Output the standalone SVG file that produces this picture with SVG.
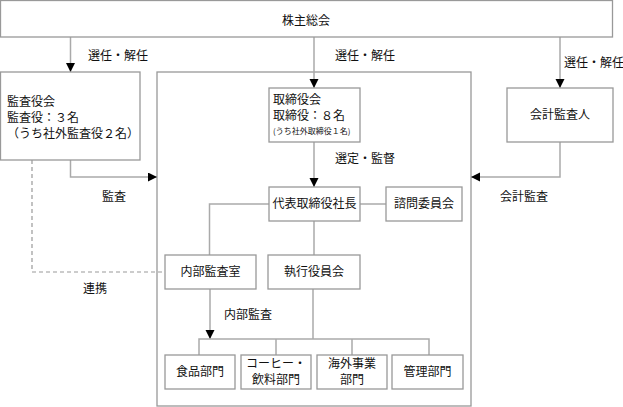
<svg xmlns="http://www.w3.org/2000/svg" width="623" height="407" viewBox="0 0 623 407">
<defs>
<marker id="ah" markerUnits="userSpaceOnUse" markerWidth="10" markerHeight="10" refX="9" refY="4.5" orient="auto">
<path d="M0,0 L9,4.5 L0,9 Z" fill="#000"/>
</marker>
<style>
.box{fill:#fff;stroke:#999;stroke-width:1.3}
.ln{fill:none;stroke:#aaa;stroke-width:1.5}
.dash{fill:none;stroke:#999;stroke-width:1.2;stroke-dasharray:4,3}
text{font-family:"Noto Sans CJK JP","Noto Sans",sans-serif;font-size:12px;fill:#111}
.c{text-anchor:middle}
.s{font-size:8px}
</style>
</defs>
<rect x="157" y="72" width="314" height="334" class="box"/>
<g id="connectors">
<path class="ln" d="M70.5,37 V72" marker-end="url(#ah)"/>
<path class="ln" d="M314,37 V88" marker-end="url(#ah)"/>
<path class="ln" d="M560,37 V88" marker-end="url(#ah)"/>
<path class="ln" d="M70.5,160 V177 H157" marker-end="url(#ah)"/>
<path class="ln" d="M560,142 V177 H471" marker-end="url(#ah)"/>
<path class="ln" d="M314,142 V187" marker-end="url(#ah)"/>
<path class="ln" d="M360,204 H386"/>
<path class="ln" d="M269,204 H209.5 V255"/>
<path class="ln" d="M314,221 V255"/>
<path class="dash" d="M32,160 V272 H165"/>
<path class="ln" d="M210,289 V339" marker-end="url(#ah)"/>
<path class="ln" d="M313,289 V339"/>
<path class="ln" d="M199,355 V339 H429 V355"/>
<path class="ln" d="M276,339 V355"/>
<path class="ln" d="M352,339 V355"/>
<text x="88" y="60">選任・解任</text>
<text x="335" y="60">選任・解任</text>
<text x="564" y="67">選任・解任</text>
<text x="102" y="201">監査</text>
<text x="500" y="201">会計監査</text>
<text x="335" y="163">選定・監督</text>
<text x="83" y="293">連携</text>
<text x="224" y="319">内部監査</text>
</g>
<g id="shareholders">
<rect x="0.5" y="0.5" width="612" height="36.5" class="box"/>
<text x="306" y="25" class="c">株主総会</text>
</g>
<g id="audit-board">
<rect x="0.5" y="72" width="139.5" height="88" class="box"/>
<text x="7" y="106">監査役会</text>
<text x="7" y="122">監査役：３名</text>
<text x="7" y="138">（うち社外監査役２名）</text>
</g>
<g id="board">
<rect x="269" y="88" width="91" height="54" class="box"/>
<text x="273" y="104">取締役会</text>
<text x="273" y="120">取締役：８名</text>
<text x="273" y="134" class="s">(うち社外取締役１名)</text>
</g>
<g id="auditor">
<rect x="507" y="88" width="106" height="54" class="box"/>
<text x="560" y="119" class="c">会計監査人</text>
</g>
<g id="president">
<rect x="269" y="187" width="91" height="34" class="box"/>
<text x="314.5" y="208" class="c">代表取締役社長</text>
</g>
<g id="advisory">
<rect x="386" y="187" width="76" height="34" class="box"/>
<text x="424" y="208" class="c">諮問委員会</text>
</g>
<g id="internal-audit">
<rect x="165" y="255" width="91" height="34" class="box"/>
<text x="210.5" y="276" class="c">内部監査室</text>
</g>
<g id="exec">
<rect x="268" y="255" width="92" height="34" class="box"/>
<text x="314" y="276" class="c">執行役員会</text>
</g>
<g id="food">
<rect x="165" y="355" width="70" height="34" class="box"/>
<text x="200" y="376" class="c">食品部門</text>
</g>
<g id="coffee">
<rect x="241" y="355" width="70" height="34" class="box"/>
<text x="276" y="368" class="c">コーヒー・</text>
<text x="276" y="384" class="c">飲料部門</text>
</g>
<g id="overseas">
<rect x="317" y="355" width="70" height="34" class="box"/>
<text x="352" y="368" class="c">海外事業</text>
<text x="352" y="384" class="c">部門</text>
</g>
<g id="admin">
<rect x="392" y="355" width="71" height="34" class="box"/>
<text x="427.5" y="376" class="c">管理部門</text>
</g>
</svg>
